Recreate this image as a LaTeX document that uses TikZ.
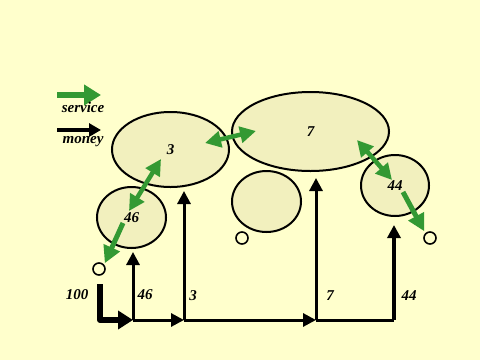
\documentclass[tikz,border=0pt]{standalone}
\usepackage{fontspec}
\setmainfont{Liberation Serif}
\usetikzlibrary{arrows.meta,shapes.geometric,positioning,calc}

\definecolor{paper}{RGB}{255,255,204}
\definecolor{blob}{RGB}{242,240,190}
\definecolor{svcgreen}{RGB}{51,153,51}

\tikzset{
  agent/.style={ellipse,draw=black,line width=2,fill=blob,inner sep=0,
    font=\fontsize{15}{18}\selectfont\bfseries\itshape},
  hole/.style={circle,draw=black,line width=1.6,minimum size=12,inner sep=0},
  amount/.style={inner sep=0,font=\fontsize{15}{18}\selectfont\bfseries\itshape},
  svc/.style={draw=svcgreen,line width=5,-{Triangle[length=17,width=17]}},
  svcboth/.style={draw=svcgreen,line width=4.5,
    {Triangle[length=16,width=16]}-{Triangle[length=16,width=16]}},
  money/.style={draw=black,line width=3,-{Triangle[length=13,width=13]}},
  cash/.style={draw=black,line width=3},
}

\begin{document}
\begin{tikzpicture}[x=1pt,y=-1pt]

\useasboundingbox[fill=paper] (0,0) rectangle (480,360);

% legend
\coordinate (ls0) at (57,95);
\coordinate (ls1) at (101,95);
\coordinate (lm0) at (57,130);
\coordinate (lm1) at (101,130);
\draw[draw=svcgreen,line width=6,-{Triangle[length=17,width=20]}] (ls0) -- (ls1);
\draw[draw=black,line width=4,-{Triangle[length=12,width=13]}] (lm0) -- (lm1);
\node[amount] (lsvc) at (83,107) {service};
\node[amount] (lmon) at (83,142) {money};

% agents
\node[agent,minimum width=117,minimum height=75] (e3) at (170.5,149.5) {3};
\node[agent,minimum width=157,minimum height=79] (e7) at (310.5,131.5) {7};
\node[agent,minimum width=69,minimum height=61] (e46) at (131.5,217.5) {46};
\node[agent,minimum width=68,minimum height=61] (e44) at (395,185.5) {44};
\node[agent,minimum width=69,minimum height=61] (e0) at (266.5,201.5) {};

% sinks
\node[hole] (h46) at (99,269) {};
\node[hole] (h0) at (242,238) {};
\node[hole] (h44) at (430,238) {};

% service flows
\coordinate (a3) at (161,159);
\coordinate (a46) at (129,211);
\coordinate (b3) at (205,143);
\coordinate (b7) at (256,131);
\coordinate (c7) at (357,140);
\coordinate (c44) at (392,180);
\coordinate (d46) at (123,223);
\coordinate (d44) at (403,192);
\draw[svcboth] (a3) -- (a46);
\draw[svcboth] (b3) -- (b7);
\draw[svcboth] (c7) -- (c44);
\draw[svc] (d46) -- ($(h46.north east)+(1,-1)$);
\draw[svc] (d44) -- ($(h44.north west)+(-1,-2)$);

% money flows
\coordinate (src) at (100,284);
\coordinate (j0) at (100,320);
\coordinate (j1) at (133,320);
\coordinate (j2) at (184,320);
\coordinate (j3) at (316,320);
\coordinate (j4) at (394,320);
\coordinate (t46) at (133,252);
\coordinate (t3) at (184,191);
\coordinate (t7) at (316,178);
\coordinate (t44) at (394,225);

\draw[draw=black,line width=6,line join=round,-{Triangle[length=15,width=18]}]
  (src) -- (j0) -- (j1);
\draw[money] (j1) -- (j2);
\draw[money] (j2) -- (j3);
\draw[cash] (j3) -- (j4);
\draw[money] (j1) -- (t46);
\draw[money] (j2) -- (t3);
\draw[money] (j3) -- (t7);
\draw[money,line width=4] (j4) -- (t44);

\node[amount] (m100) at (77,295) {100};
\node[amount] (m46) at (145,295) {46};
\node[amount] (m3) at (193,296) {3};
\node[amount] (m7) at (330,296) {7};
\node[amount] (m44) at (409,296) {44};

\end{tikzpicture}
\end{document}
